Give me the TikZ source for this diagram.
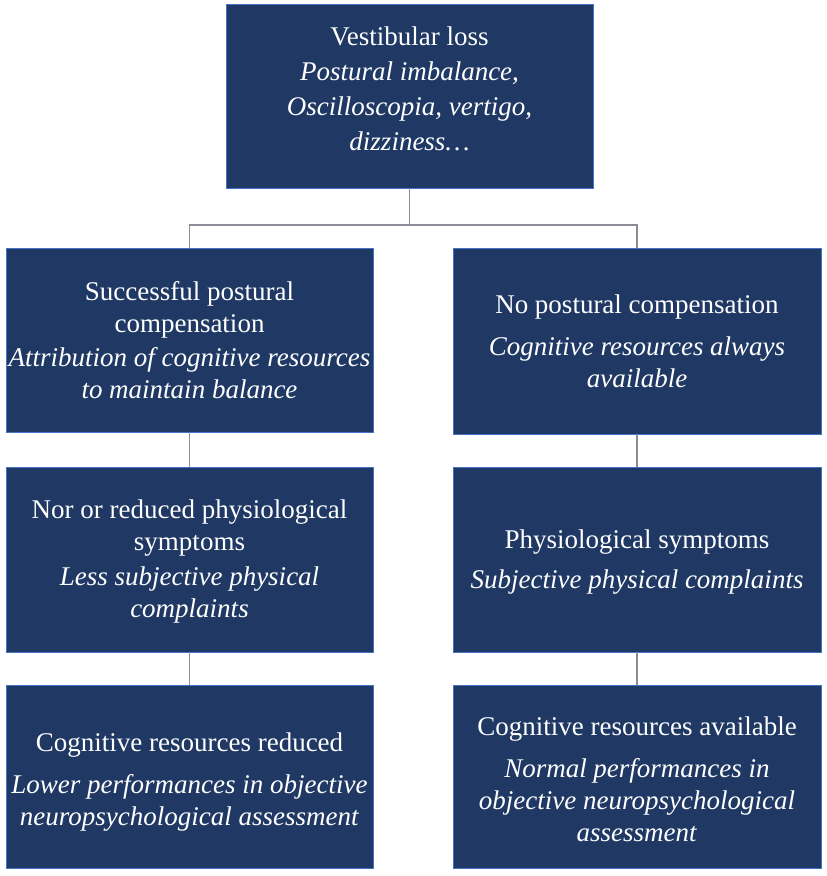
\documentclass[tikz,border=0pt]{standalone}
\usepackage{fontspec}
\setmainfont{Liberation Serif}
\definecolor{boxfill}{RGB}{31,56,100}
\definecolor{boxedge}{RGB}{68,114,196}
\definecolor{linkgray}{RGB}{140,140,150}
\begin{document}
\begin{tikzpicture}[x=1pt,y=-1pt,
  box/.style={rectangle, fill=boxfill, draw=boxedge, line width=0.9pt, inner sep=0pt},
  txt/.style={text=white, align=center, inner sep=0pt,
    font=\fontsize{27}{32}\selectfont},
  link/.style={draw=linkgray, line width=1.3pt}]
\useasboundingbox (0,0) rectangle (827,876);
\node[box, minimum width=367pt, minimum height=184pt] (top) at (409.5,96) {};
\node[txt, yshift=7pt] (toptxt) at (top)
  {Vestibular loss\\[3pt] \textit{Postural imbalance,}\\[3pt] \textit{Oscilloscopia, vertigo,}\\[3pt] \textit{dizziness\ldots}};
\node[box, minimum width=367pt, minimum height=184pt] (l1) at (189.5,340) {};
\node[txt] (l1txt) at (l1)
  {Successful postural\\ compensation\\[2pt] \textit{Attribution of cognitive resources}\\ \textit{to maintain balance}};
\node[box, minimum width=368pt, minimum height=186pt] (r1) at (637,341) {};
\node[txt] (r1txt) at (r1)
  {No postural compensation\\[10pt] \textit{Cognitive resources always}\\ \textit{available}};
\node[box, minimum width=367pt, minimum height=185pt] (l2) at (189.5,559.5) {};
\node[txt, yshift=-2pt] (l2txt) at (l2)
  {Nor or reduced physiological\\ symptoms\\[3pt] \textit{Less subjective physical}\\ \textit{complaints}};
\node[box, minimum width=368pt, minimum height=185pt] (r2) at (637,559.5) {};
\node[txt, yshift=-3pt] (r2txt) at (r2)
  {Physiological symptoms\\[8pt] \textit{Subjective physical complaints}};
\node[box, minimum width=367pt, minimum height=183pt] (l3) at (189.5,776.5) {};
\node[txt, yshift=-6pt] (l3txt) at (l3)
  {Cognitive resources reduced\\[10pt] \textit{Lower performances in objective}\\ \textit{neuropsychological assessment}};
\node[box, minimum width=368pt, minimum height=183pt] (r3) at (637,776.5) {};
\node[txt, yshift=-3pt] (r3txt) at (r3)
  {Cognitive resources available\\[10pt] \textit{Normal performances in}\\ \textit{objective neuropsychological}\\ \textit{assessment}};
\coordinate (j) at (409.5,225);
\draw[link] (top.south) -- (j);
\draw[link] (l1.north) |- (j) -| (r1.north);
\draw[link] (l1) -- (l2);
\draw[link] (r1) -- (r2);
\draw[link] (l2) -- (l3);
\draw[link] (r2) -- (r3);
\end{tikzpicture}
\end{document}
